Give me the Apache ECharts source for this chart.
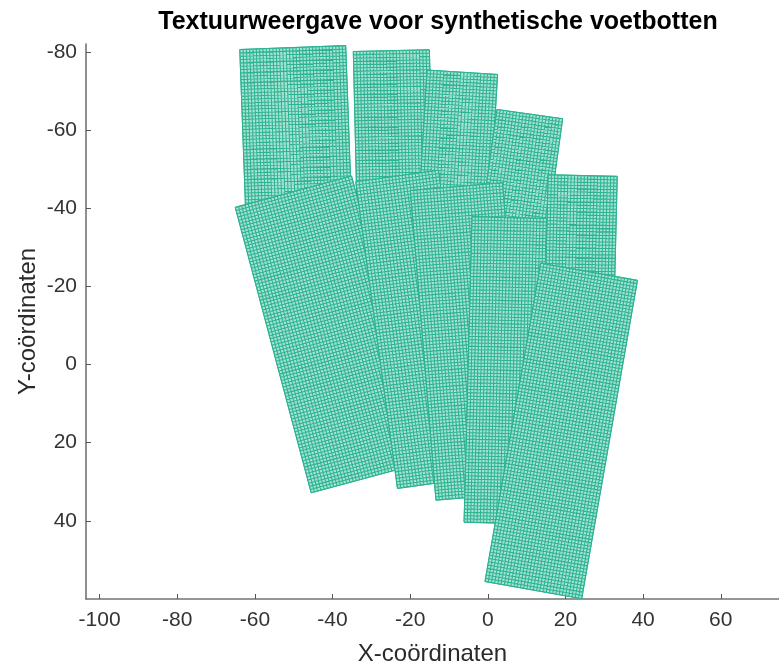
<!DOCTYPE html>
<html>
<head>
<meta charset="utf-8">
<script src="https://cdn.jsdelivr.net/npm/echarts@6/dist/echarts.min.js"></script>
<style>
  html, body { margin: 0; padding: 0; background: #ffffff; }
  #chart { width: 779px; height: 666px; }
</style>
</head>
<body>
<div id="chart"></div>
<script>
// Synthetic foot bones, each one a rotated rectangle in data units.
// Order matters: later bones are painted on top of earlier ones.
const boneCenterX = [-49.5, -24.4, -7.6, 8.9, 24.1, -40.3, -18.0, -4.8, 4.5, 18.9];
const boneCenterY = [-60.6, -61.3, -57.8, -50.5, -34.5, -7.7, -9.0, -5.9, 1.5, 17.0];
const boneWidth   = [27.3, 19.6, 18.2, 17.1, 17.8, 31.0, 21.5, 23.8, 19.2, 25.3];
const boneLength  = [41.0, 38.0, 34.0, 27.4, 27.7, 75.6, 79.2, 79.5, 78.2, 82.7];
const boneAngle   = [-2.1, -1.35, 3.5, 8.0, 1.4, -15.0, -7.8, -4.75, 1.5, 10.0]; // degrees

const xTicks = [-100, -80, -60, -40, -20, 0, 20, 40, 60];
const yTicks = [-80, -60, -40, -20, 0, 20, 40];

const MESH_STEP = 0.85;          // spacing of the texture mesh, data units
const MESH_COLOR = '#2bb392';
const FACE_COLOR = '#a6e2d2';
const EDGE_COLOR = '#34b692';
const FONT = '"Liberation Sans", Arial, Helvetica, sans-serif';

// Corner points (TL, TR, BR, BL) of bone i in data space
function boneCorners(i) {
  const t = boneAngle[i] * Math.PI / 180;
  const ux = Math.cos(t), uy = Math.sin(t);   // across the bone
  const vx = -Math.sin(t), vy = Math.cos(t);  // along the bone
  const hw = boneWidth[i] / 2, hl = boneLength[i] / 2;
  const cx = boneCenterX[i], cy = boneCenterY[i];
  return [
    [cx - ux * hw - vx * hl, cy - uy * hw - vy * hl],
    [cx + ux * hw - vx * hl, cy + uy * hw - vy * hl],
    [cx + ux * hw + vx * hl, cy + uy * hw + vy * hl],
    [cx - ux * hw + vx * hl, cy - uy * hw + vy * hl]
  ];
}

function lerp(a, b, t) {
  return [a[0] + (b[0] - a[0]) * t, a[1] + (b[1] - a[1]) * t];
}

function renderBone(params, api) {
  const i = api.value(0);
  const c = boneCorners(i).map(function (p) { return api.coord(p); });
  const nW = Math.max(1, Math.round(boneWidth[i] / MESH_STEP));
  const nL = Math.max(1, Math.round(boneLength[i] / MESH_STEP));
  let d = '';
  for (let k = 0; k <= nW; k++) {
    const a = lerp(c[0], c[1], k / nW), b = lerp(c[3], c[2], k / nW);
    d += 'M' + a[0].toFixed(2) + ' ' + a[1].toFixed(2) + 'L' + b[0].toFixed(2) + ' ' + b[1].toFixed(2);
  }
  for (let k = 0; k <= nL; k++) {
    const a = lerp(c[0], c[3], k / nL), b = lerp(c[1], c[2], k / nL);
    d += 'M' + a[0].toFixed(2) + ' ' + a[1].toFixed(2) + 'L' + b[0].toFixed(2) + ' ' + b[1].toFixed(2);
  }
  return {
    type: 'group',
    children: [
      { type: 'polygon', shape: { points: c },
        style: { fill: FACE_COLOR, stroke: EDGE_COLOR, lineWidth: 1 } },
      { type: 'path', shape: { pathData: d },
        style: { fill: 'none', stroke: MESH_COLOR, lineWidth: 1.05 } }
    ]
  };
}

const chart = echarts.init(document.getElementById('chart'), null, { renderer: 'canvas' });

chart.setOption({
  animation: false,
  backgroundColor: '#ffffff',
  title: {
    text: 'Textuurweergave voor synthetische voetbotten',
    left: 433,
    top: 5,
    textAlign: 'center',
    textStyle: { fontFamily: FONT, fontSize: 25, fontWeight: 'bold', color: '#000000' }
  },
  grid: { left: 86, right: 0, top: 44, bottom: 67, containLabel: false, outerBoundsMode: 'none' },
  xAxis: {
    type: 'value',
    min: -103.5,
    max: 75,
    position: 'bottom',
    name: 'X-coördinaten',
    nameLocation: 'middle',
    nameGap: 43,
    nameMoveOverlap: false,
    nameTextStyle: { fontFamily: FONT, fontSize: 24, color: '#2a2a2a' },
    axisLine: { show: true, onZero: false, lineStyle: { color: '#737373', width: 1.6 } },
    axisTick: { show: true, inside: true, length: 5, customValues: xTicks, lineStyle: { color: '#555555', width: 1 } },
    axisLabel: { customValues: xTicks, fontFamily: FONT, fontSize: 21, color: '#333333', margin: 11 },
    splitLine: { show: false }
  },
  yAxis: {
    type: 'value',
    inverse: true,
    min: -82,
    max: 60,
    position: 'left',
    name: 'Y-coördinaten',
    nameLocation: 'middle',
    nameGap: 46,
    nameMoveOverlap: false,
    nameTextStyle: { fontFamily: FONT, fontSize: 24, color: '#2a2a2a' },
    axisLine: { show: true, onZero: false, lineStyle: { color: '#737373', width: 1.6 } },
    axisTick: { show: true, inside: true, length: 5, customValues: yTicks, lineStyle: { color: '#555555', width: 1 } },
    axisLabel: { customValues: yTicks, fontFamily: FONT, fontSize: 21, color: '#333333', margin: 9 },
    splitLine: { show: false }
  },
  series: [{
    type: 'custom',
    renderItem: renderBone,
    clip: true,
    encode: { x: 1, y: 2 },
    data: boneCenterX.map(function (x, i) { return [i, x, boneCenterY[i]]; })
  }]
});
</script>
</body>
</html>
